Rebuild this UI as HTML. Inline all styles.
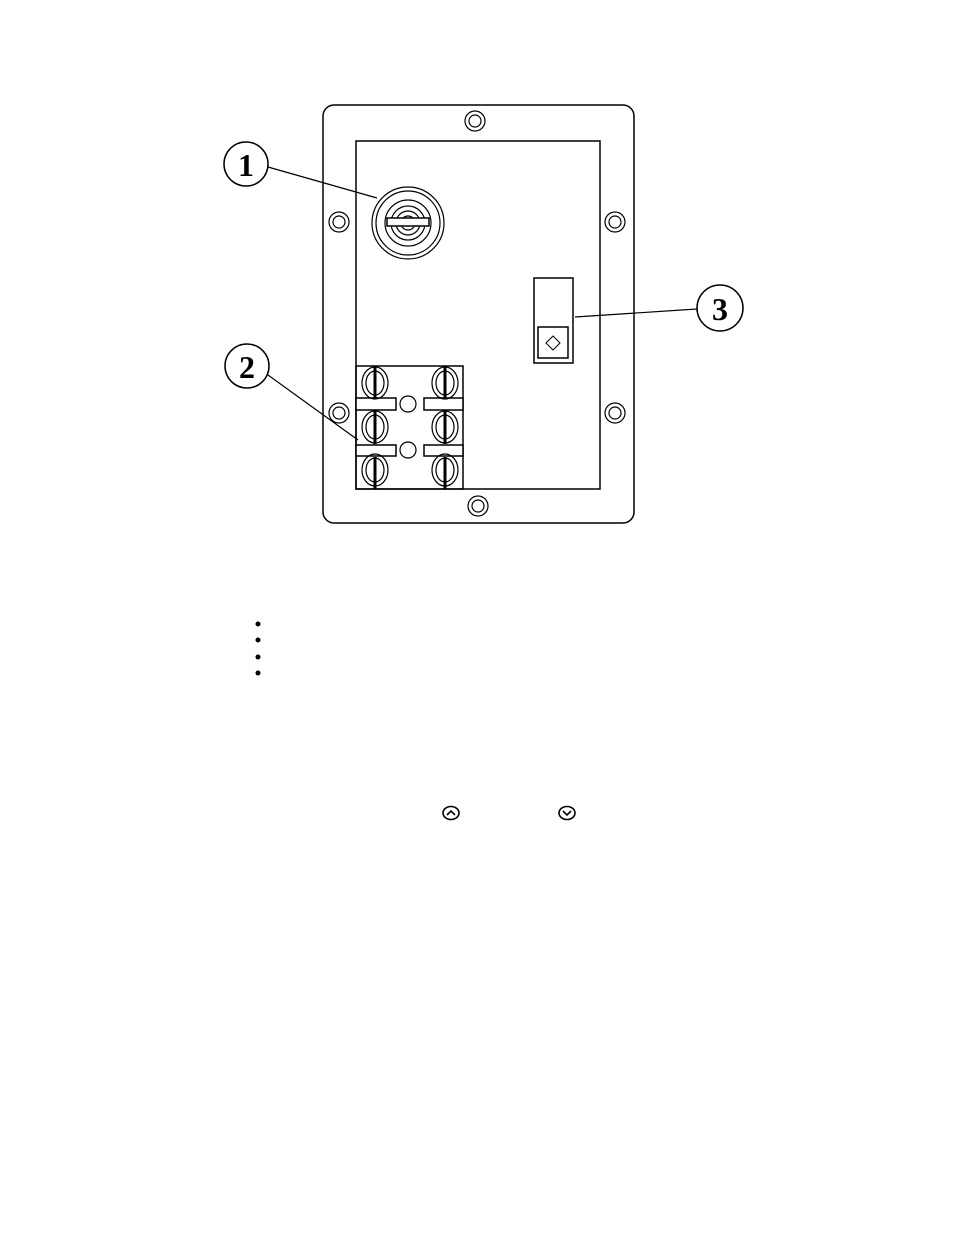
<!DOCTYPE html>
<html><head><style>html,body{margin:0;padding:0;background:#fff}</style></head>
<body>
<svg width="954" height="1235" viewBox="0 0 954 1235" xmlns="http://www.w3.org/2000/svg">
<g fill="none" stroke="#000" stroke-width="1.5">
<rect x="323" y="105" width="311" height="418" rx="11"/>
<rect x="356" y="141" width="244" height="348"/>
<g stroke-width="1.2">
<circle cx="475" cy="121" r="10"/><circle cx="475" cy="121" r="6"/>
<circle cx="339" cy="222" r="10"/><circle cx="339" cy="222" r="6"/>
<circle cx="339" cy="413" r="10"/><circle cx="339" cy="413" r="6"/>
<circle cx="615" cy="222" r="10"/><circle cx="615" cy="222" r="6"/>
<circle cx="615" cy="413" r="10"/><circle cx="615" cy="413" r="6"/>
<circle cx="478" cy="506" r="10"/><circle cx="478" cy="506" r="6"/>
<circle cx="408" cy="223" r="36"/><circle cx="408" cy="223" r="32"/>
<circle cx="408" cy="223" r="23"/><circle cx="408" cy="223" r="17"/>
<circle cx="408" cy="223" r="12"/><circle cx="408" cy="223" r="7"/>
</g>
<rect x="387" y="218" width="42" height="8" fill="#fff"/>
<rect x="534" y="278" width="39" height="85"/>
<rect x="538" y="327" width="30" height="31"/>
<path d="M553 336 L560 343 L553 350 L546 343 Z" stroke-width="1"/>
<rect x="356" y="366" width="107" height="123"/>
<g fill="#fff">
<rect x="356" y="398" width="40" height="12"/><rect x="424" y="398" width="39" height="12"/>
<rect x="356" y="445" width="40" height="11"/><rect x="424" y="445" width="39" height="11"/>
</g>
<circle cx="408" cy="404" r="8" stroke-width="1.2"/><circle cx="408" cy="450" r="8" stroke-width="1.2"/>
<g stroke-width="1.2">
<ellipse cx="375" cy="383" rx="13" ry="16"/><ellipse cx="375" cy="383" rx="9" ry="12"/>
<ellipse cx="445" cy="383" rx="13" ry="16"/><ellipse cx="445" cy="383" rx="9" ry="12"/>
<ellipse cx="375" cy="427" rx="13" ry="16"/><ellipse cx="375" cy="427" rx="9" ry="12"/>
<ellipse cx="445" cy="427" rx="13" ry="16"/><ellipse cx="445" cy="427" rx="9" ry="12"/>
<ellipse cx="375" cy="470" rx="13" ry="16"/><ellipse cx="375" cy="470" rx="9" ry="12"/>
<ellipse cx="445" cy="470" rx="13" ry="16"/><ellipse cx="445" cy="470" rx="9" ry="12"/>
</g>
<g stroke-width="3">
<line x1="375" y1="367" x2="375" y2="398"/><line x1="445" y1="367" x2="445" y2="398"/>
<line x1="375" y1="411" x2="375" y2="444"/><line x1="445" y1="411" x2="445" y2="444"/>
<line x1="375" y1="457" x2="375" y2="489"/><line x1="445" y1="457" x2="445" y2="489"/>
</g>
<g stroke-width="1.2">
<line x1="268" y1="167" x2="377" y2="198"/>
<line x1="268" y1="375" x2="358" y2="440"/>
<line x1="575" y1="317" x2="697" y2="309"/>
</g>
<circle cx="246" cy="164" r="22"/>
<circle cx="247" cy="366" r="22"/>
<circle cx="720" cy="308" r="23"/>
</g>
<g font-family="Liberation Serif, serif" font-weight="bold" font-size="32" text-anchor="middle">
<text x="246" y="176">1</text>
<text x="247" y="378">2</text>
<text x="720" y="320">3</text>
</g>
<g fill="#000">
<circle cx="258" cy="624" r="2.5"/><circle cx="258" cy="640" r="2.5"/>
<circle cx="258" cy="657" r="2.5"/><circle cx="258" cy="673" r="2.5"/>
</g>
<g fill="none" stroke="#000" stroke-width="1.6">
<ellipse cx="451" cy="813" rx="8" ry="6.5"/><path d="M447 815 L451 811 L455 815"/>
<ellipse cx="567" cy="813" rx="8" ry="6.5"/><path d="M563 811 L567 815 L571 811"/>
</g>
</svg>
</body></html>
